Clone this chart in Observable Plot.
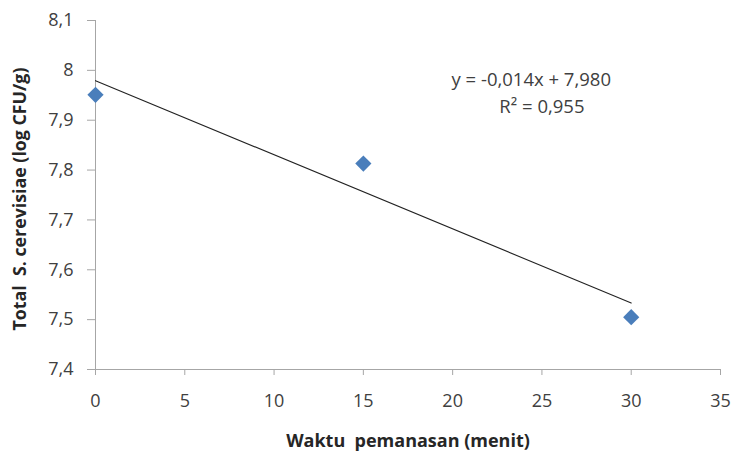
<!DOCTYPE html>
<html>
<head>
<meta charset="utf-8">
<script src="https://cdn.jsdelivr.net/npm/d3@7"></script>
<script src="https://cdn.jsdelivr.net/npm/@observablehq/plot@0.6"></script>
<style>
  html, body { margin: 0; padding: 0; background: #fff; }
  #chart svg { display: block; }
</style>
</head>
<body>
<div id="chart"></div>
<script>
// Data
const times = [0, 15, 30];                 // Waktu pemanasan (menit)
const counts = [7.951, 7.813, 7.505];      // Total S. cerevisiae (log CFU/g)
const xTicks = [0, 5, 10, 15, 20, 25, 30, 35];
const yTicks = [7.4, 7.5, 7.6, 7.7, 7.8, 7.9, 8.0, 8.1];
const eqLines = ["y = -0,014x + 7,980", "R² = 0,955"];
const eqX = [24.4, 25.0];
const eqY = [7.981, 7.927];
const xTitle = "Waktu  pemanasan (menit)";
const yTitle = "Total  S. cerevisiae (log CFU/g)";

const data = times.map((t, i) => ({t, v: counts[i]}));
const eqData = eqLines.map((s, i) => ({s, x: eqX[i], y: eqY[i]}));
const fmt = d => String(+d.toFixed(1)).replace(".", ",");

const font = "'Open Sans', sans-serif";
const chart = Plot.plot({
  width: 732,
  height: 458,
  marginLeft: 95,
  marginRight: 12,
  marginTop: 20,
  marginBottom: 89,
  style: {fontFamily: font, fontSize: "18px", background: "#fff"},
  x: {domain: [0, 35]},
  y: {domain: [7.4, 8.1]},
  marks: [
    Plot.axisX({ticks: xTicks, tickFormat: d => String(d), tickSize: 6, tickPadding: 19,
      stroke: "#a6a6a6", fill: "#404040", fontSize: 18, label: null}),
    Plot.axisY({ticks: yTicks, tickFormat: fmt, tickSize: 8, tickPadding: 14,
      stroke: "#a6a6a6", fill: "#404040", fontSize: 18, label: null}),
    Plot.ruleX([0], {stroke: "#a6a6a6"}),
    Plot.ruleY([7.4], {stroke: "#a6a6a6"}),
    Plot.text([xTitle], {frameAnchor: "bottom", textAnchor: "middle", dy: 77, text: d => d, fontSize: 18,
      fontWeight: "bold", fill: "#262626"}),
    Plot.text([yTitle], {frameAnchor: "left", textAnchor: "middle", dx: -75, dy: 4, rotate: -90, text: d => d,
      fontSize: 17.8, fontWeight: "bold", fill: "#262626"}),
    Plot.linearRegressionY(data, {x: "t", y: "v", ci: 0, stroke: "#222", strokeWidth: 1.1}),
    Plot.dot(data, {x: "t", y: "v", symbol: "diamond2", r: 7.3, fill: "#4a7ebb", stroke: "none"}),
    Plot.text(eqData, {x: "x", y: "y", text: "s", fontSize: 18.5, fill: "#404040", textAnchor: "middle"})
  ]
});
document.getElementById("chart").appendChild(chart);
</script>
</body>
</html>
